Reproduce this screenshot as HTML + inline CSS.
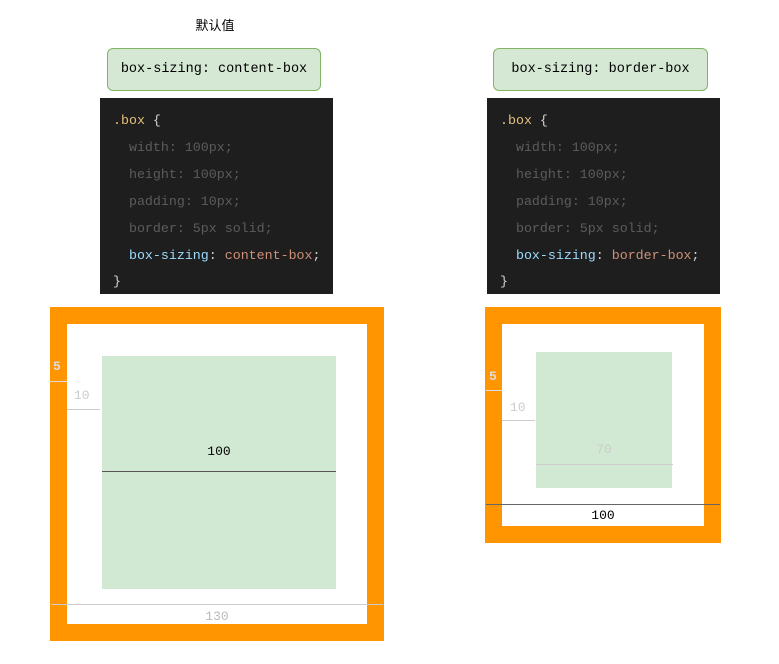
<!DOCTYPE html>
<html><head><meta charset="utf-8"><style>
body{margin:0;width:779px;height:664px;background:#fff;position:relative;overflow:hidden;font-family:"Liberation Mono",monospace}
.a{position:absolute}
.t{position:absolute;white-space:pre;font-size:13.3px;line-height:16px}
.lbl{position:absolute;background:#d5e8d4;border:1px solid #82b366;border-radius:6px;box-sizing:border-box;text-align:center;line-height:42px;font-size:13.5px;color:#000;height:43px}
.code{position:absolute;background:#1e1e1e;width:233px;height:196px;top:98px}
.code .t{left:13px}
.y{color:#e5c07b}.w{color:#d4d4d4}.g{color:#5c5c5c}.b{color:#9cdcfe}.o{color:#ce9178}
.num{position:absolute;font-size:13px;line-height:14px;white-space:pre}
</style></head><body>
<div class="a" style="left:0;top:15px;width:430px;text-align:center;font-family:'Liberation Sans','Noto Sans CJK SC',sans-serif;font-size:13px">默认值</div>

<div class="lbl" style="left:107px;top:48px;width:214px">box-sizing: content-box</div>
<div class="lbl" style="left:493px;top:48px;width:215px">box-sizing: border-box</div>

<div class="code" style="left:100px">
<div class="t" style="top:15px"><span class="y">.box</span><span class="w"> {</span></div>
<div class="t g" style="top:42px">  width: 100px;</div>
<div class="t g" style="top:69px">  height: 100px;</div>
<div class="t g" style="top:96px">  padding: 10px;</div>
<div class="t g" style="top:123px">  border: 5px solid;</div>
<div class="t" style="top:150px">  <span class="b">box-sizing</span><span class="w">: </span><span class="o">content-box</span><span class="w">;</span></div>
<div class="t w" style="top:176px">}</div>
</div>
<div class="code" style="left:487px">
<div class="t" style="top:15px"><span class="y">.box</span><span class="w"> {</span></div>
<div class="t g" style="top:42px">  width: 100px;</div>
<div class="t g" style="top:69px">  height: 100px;</div>
<div class="t g" style="top:96px">  padding: 10px;</div>
<div class="t g" style="top:123px">  border: 5px solid;</div>
<div class="t" style="top:150px">  <span class="b">box-sizing</span><span class="w">: </span><span class="o">border-box</span><span class="w">;</span></div>
<div class="t w" style="top:176px">}</div>
</div>

<!-- left box -->
<div class="a" style="left:50px;top:307px;width:300px;height:300px;border:17px solid #ff9500;background:#fff"></div>
<div class="a" style="left:102px;top:356px;width:234px;height:233px;background:#d1e9d3"></div>
<div class="a" style="left:102px;top:471px;width:234px;height:1px;background:#555"></div>
<div class="num" style="left:102px;width:234px;text-align:center;top:445px;color:#000">100</div>
<div class="a" style="left:50px;top:381px;width:17px;height:1px;background:#ddd"></div>
<div class="num" style="left:53px;top:360px;color:#ddd;font-weight:bold">5</div>
<div class="a" style="left:67px;top:409px;width:33px;height:1px;background:#ccc"></div>
<div class="num" style="left:74px;top:389px;color:#ccc">10</div>
<div class="a" style="left:51px;top:604px;width:332px;height:1px;background:#ccc"></div>
<div class="num" style="left:67px;width:300px;text-align:center;top:610px;color:#bbb">130</div>

<!-- right box -->
<div class="a" style="left:485px;top:307px;width:202px;height:202px;border:17px solid #ff9500;background:#fff"></div>
<div class="a" style="left:536px;top:352px;width:136px;height:136px;background:#d1e9d3"></div>
<div class="a" style="left:536px;top:464px;width:137px;height:1px;background:#ccc"></div>
<div class="num" style="left:536px;width:136px;text-align:center;top:443px;color:#ccc">70</div>
<div class="a" style="left:486px;top:504px;width:234px;height:1px;background:#666"></div>
<div class="num" style="left:486px;width:234px;text-align:center;top:509px;color:#000">100</div>
<div class="a" style="left:486px;top:390px;width:16px;height:1px;background:#ddd"></div>
<div class="num" style="left:489px;top:370px;color:#ddd;font-weight:bold">5</div>
<div class="a" style="left:502px;top:420px;width:33px;height:1px;background:#ccc"></div>
<div class="num" style="left:510px;top:401px;color:#ccc">10</div>
</body></html>
